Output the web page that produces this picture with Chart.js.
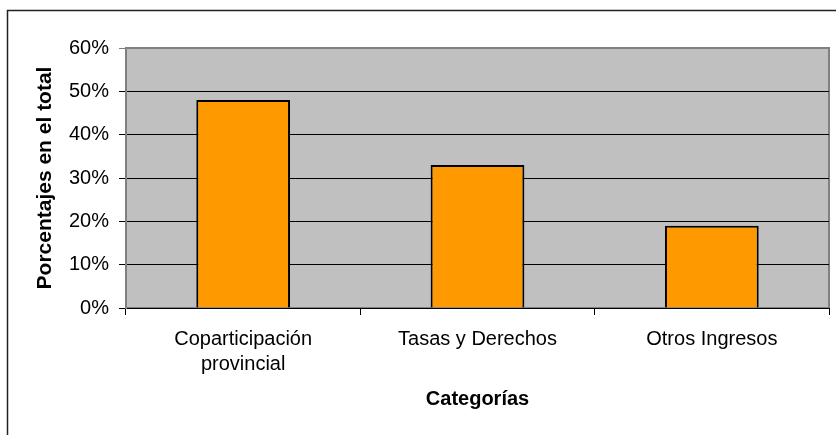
<!DOCTYPE html>
<html>
<head>
<meta charset="utf-8">
<script src="https://cdn.jsdelivr.net/npm/chart.js@4"></script>
<style>
  html, body { margin: 0; padding: 0; background: #fff; }
  #wrap { width: 836px; height: 435px; position: relative; }
</style>
</head>
<body>
<div id="wrap"><canvas id="myChart" width="836" height="435"></canvas></div>
<script>
var categories = [['Coparticipación', 'provincial'], 'Tasas y Derechos', 'Otros Ingresos'];
var porcentajes = [48, 33, 19];
var yTicks = [0, 10, 20, 30, 40, 50, 60];

// gray plot background + outer frame
var frame = {
  id: 'frame',
  beforeDraw: function (chart) {
    var c = chart.ctx, a = chart.chartArea;
    c.save();
    c.fillStyle = '#fff';
    c.fillRect(0, 0, chart.width, chart.height);
    c.strokeStyle = '#222';
    c.lineWidth = 1.5;
    c.strokeRect(7.5, 10.5, chart.width + 10, chart.height + 10);
    c.fillStyle = '#C0C0C0';
    c.fillRect(a.left, a.top, a.right - a.left, a.bottom - a.top);
    c.strokeStyle = '#808080';
    c.lineWidth = 2;
    c.strokeRect(a.left, a.top, a.right - a.left, a.bottom - a.top);
    c.restore();
  }
};

Chart.defaults.font.family = '"Liberation Sans", Arial, sans-serif';
Chart.defaults.color = '#000';

var ctx = document.getElementById('myChart').getContext('2d');
var myChart = new Chart(ctx, {
  type: 'bar',
  data: {
    labels: categories,
    datasets: [{
      label: 'Porcentajes',
      data: porcentajes,
      backgroundColor: '#FF9900',
      borderColor: '#000',
      borderWidth: 2,
      barPercentage: 0.4,
      categoryPercentage: 1
    }]
  },
  options: {
    responsive: false,
    animation: false,
    layout: { padding: { left: 0, right: 7, top: 48, bottom: 0 } },
    plugins: { legend: { display: false }, tooltip: { enabled: false } },
    scales: {
      x: {
        afterFit: function (axis) { axis.height = 127; },
        grid: { offset: true, drawOnChartArea: false, drawTicks: true, tickLength: 7, color: '#000' },
        border: { color: '#000', width: 1 },
        ticks: { font: { size: 20, lineHeight: 1.25 }, padding: 12, maxRotation: 0 },
        title: { display: true, text: 'Categorías', font: { size: 20, weight: 'bold' }, padding: { top: 0, bottom: 24 } }
      },
      y: {
        min: 0, max: 60,
        afterFit: function (axis) { axis.width = 126; },
        afterBuildTicks: function (axis) { axis.ticks = yTicks.map(function (v) { return { value: v }; }); },
        grid: {
          color: function (c) { return c.tick && c.tick.value === 60 ? '#808080' : '#000'; },
          lineWidth: 1, tickLength: 7
        },
        border: { color: '#808080', width: 2 },
        ticks: { font: { size: 20 }, padding: 10, callback: function (v) { return v + '%'; } },
        title: { display: true, text: 'Porcentajes en el total', font: { size: 21, weight: 'bold' }, padding: { top: 33, bottom: 0 } }
      }
    }
  },
  plugins: [frame]
});
</script>
</body>
</html>
